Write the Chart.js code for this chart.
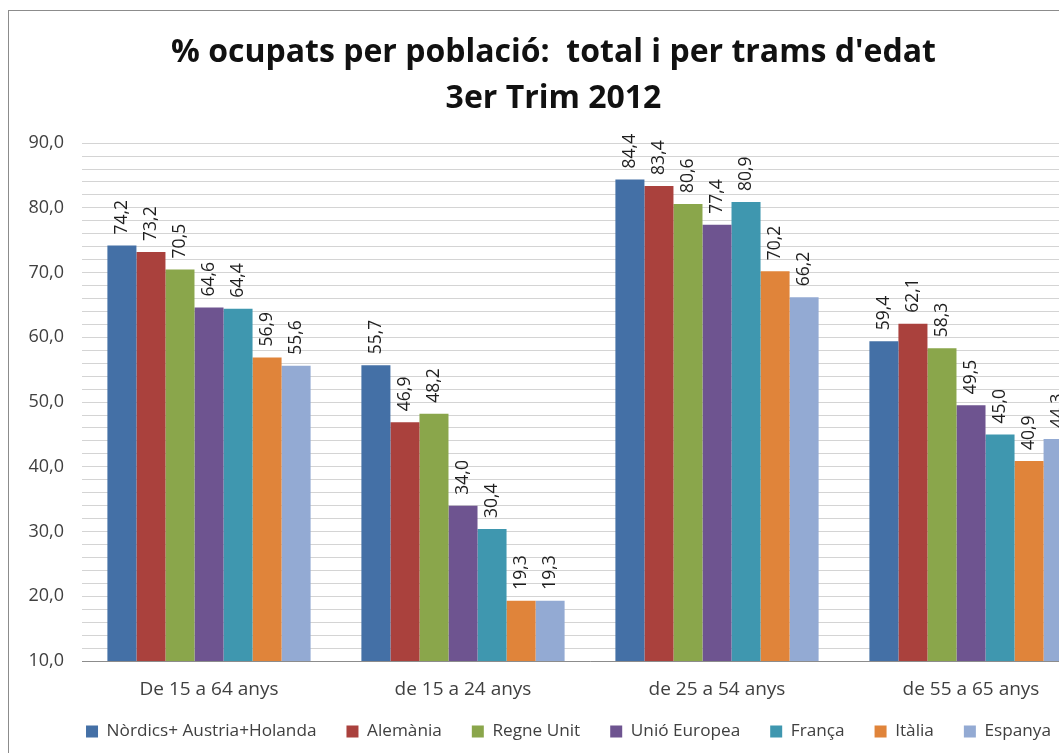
<!DOCTYPE html>
<html>
<head>
<meta charset="utf-8">
<script src="https://cdn.jsdelivr.net/npm/chart.js@4.4.1/dist/chart.umd.min.js"></script>
<style>
  html, body { margin: 0; padding: 0; overflow: hidden; background: #fff; }
  #wrap {
    position: absolute; left: 8px; top: 10px;
    width: 1118px; height: 780px;
    border: 1px solid #8c8c8c;
    background: #fff;
  }
</style>
</head>
<body>
<div id="wrap"><canvas id="chart"></canvas></div>
<script>
// age ranges (categories)
const categories = ['De 15 a 64 anys', 'de 15 a 24 anys', 'de 25 a 54 anys', 'de 55 a 65 anys'];

// one array per country / group
const nordics = [74.2, 55.7, 84.4, 59.4];
const alemania = [73.2, 46.9, 83.4, 62.1];
const regneUnit = [70.5, 48.2, 80.6, 58.3];
const unioEuropea = [64.6, 34.0, 77.4, 49.5];
const franca = [64.4, 30.4, 80.9, 45.0];
const italia = [56.9, 19.3, 70.2, 40.9];
const espanya = [55.6, 19.3, 66.2, 44.3];

const seriesNames = ['Nòrdics+ Austria+Holanda', 'Alemània', 'Regne Unit', 'Unió Europea', 'França', 'Itàlia', 'Espanya'];
const seriesValues = [nordics, alemania, regneUnit, unioEuropea, franca, italia, espanya];
const seriesColors = ['#4470a6', '#aa413d', '#8aa64b', '#6e5490', '#3f97af', '#e0843a', '#93aad3'];

const FONT = '"Open Sans", "Noto Sans", sans-serif';
const fmt = v => v.toFixed(1).replace('.', ',');

// vertical value labels above each bar
const barLabels = {
    id: 'barLabels',
    afterDatasetsDraw(chart) {
        const c = chart.ctx;
        c.save();
        c.font = '17.5px ' + FONT;
        c.fillStyle = '#1e1e1e';
        c.textAlign = 'left';
        c.textBaseline = 'middle';
        chart.data.datasets.forEach((ds, i) => {
            const meta = chart.getDatasetMeta(i);
            meta.data.forEach((bar, j) => {
                c.save();
                c.translate(bar.x, bar.y - 11);
                c.rotate(-Math.PI / 2);
                c.fillText(fmt(ds.data[j]), 0, 0);
                c.restore();
            });
        });
        c.restore();
    }
};

// the wide item spacing also pads the legend vertically; pull it back up a bit
const legendShift = {
    id: 'legendShift',
    afterLayout(chart) {
        const lg = chart.legend;
        lg.top -= 17; lg.bottom -= 17;
        lg.left += 15; lg.right += 15;
    }
};

const ctx = document.getElementById('chart').getContext('2d');
new Chart(ctx, {
    type: 'bar',
    data: {
        labels: categories,
        datasets: seriesNames.map((name, i) => ({
            label: name,
            data: seriesValues[i],
            backgroundColor: seriesColors[i],
            borderWidth: 0,
            categoryPercentage: 0.8,
            barPercentage: 1.0
        }))
    },
    options: {
        responsive: true,
        maintainAspectRatio: false,
        animation: false,
        layout: { padding: { left: 0, right: 29, top: 16, bottom: 24 } },
        plugins: {
            title: {
                display: true,
                text: ["% ocupats per població:  total i per trams d'edat", '3er Trim 2012'],
                font: { family: FONT, size: 32, weight: 'bold', lineHeight: 1.44 },
                color: '#111',
                padding: { top: 3, bottom: 21 }
            },
            legend: {
                position: 'bottom',
                labels: {
                    font: { family: FONT, size: 17.2 },
                    color: '#404040',
                    boxWidth: 12,
                    boxHeight: 12,
                    padding: 30
                }
            },
            tooltip: { enabled: false }
        },
        scales: {
            x: {
                grid: { display: false },
                border: { display: true, color: '#8c8c8c' },
                ticks: { font: { family: FONT, size: 19 }, color: '#404040', padding: 9 }
            },
            y: {
                min: 10,
                max: 90,
                afterFit: s => { s.width = 73; },
                ticks: {
                    stepSize: 2,
                    autoSkip: false,
                    font: { family: FONT, size: 18 },
                    color: '#404040',
                    padding: 18,
                    callback: v => (v % 10 === 0 ? fmt(v) : '')
                },
                grid: { color: '#d4d4d4', lineWidth: 1, drawTicks: false },
                border: { display: false }
            }
        }
    },
    plugins: [barLabels, legendShift]
});
</script>
</body>
</html>
